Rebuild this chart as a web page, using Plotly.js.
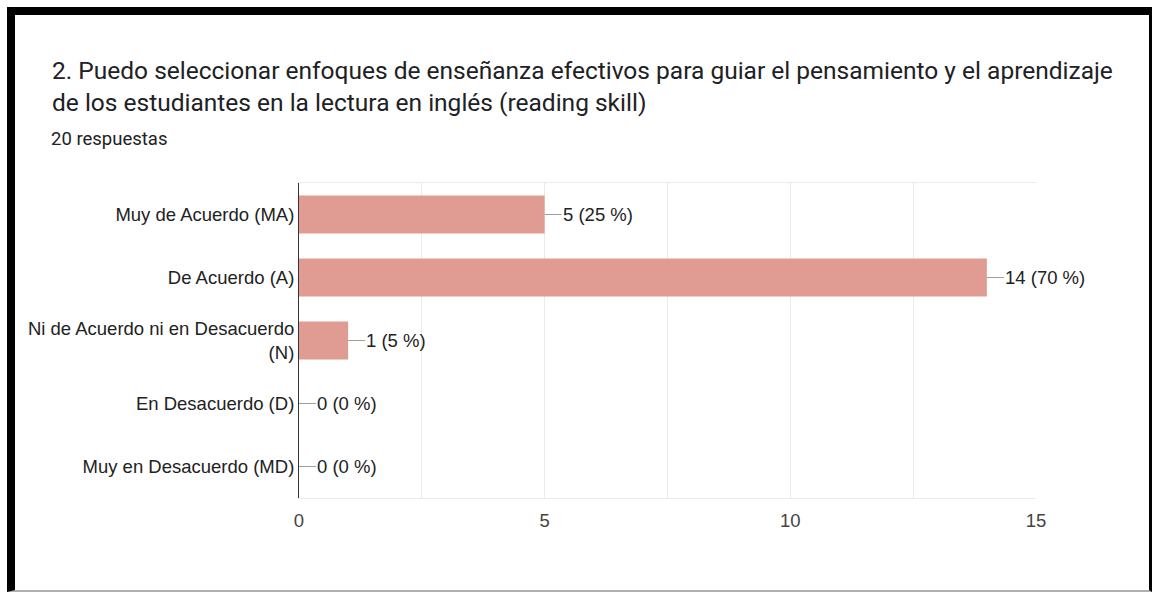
<!DOCTYPE html>
<html>
<head>
<meta charset="utf-8">
<script src="https://cdn.plot.ly/plotly-3.0.1.min.js"></script>
<style>
  html, body { margin: 0; padding: 0; background: #f4f4f4; }
  #chart { position: absolute; left: 0; top: 0; width: 1152px; height: 592px; }
  #frame { position: absolute; left: 7px; top: 7px; width: 1134px; height: 575px;
           border-left: 8px solid #000; border-top: 8px solid #000; border-right: 3px solid #000;
           border-bottom: 2px solid #b0b0b0; pointer-events: none; background: transparent; }
</style>
</head>
<body>
<div id="chart"></div>
<div id="frame"></div>
<script>
const categories = [
  'Muy de Acuerdo (MA)',
  'De Acuerdo (A)',
  'Ni de Acuerdo ni en Desacuerdo<br>(N)',
  'En Desacuerdo (D)',
  'Muy en Desacuerdo (MD)'
];
const counts = [5, 14, 1, 0, 0];
const percents = ['25 %', '70 %', '5 %', '0 %', '0 %'];
const titleText = '2. Puedo seleccionar enfoques de enseñanza efectivos para guiar el pensamiento y el aprendizaje<br>de los estudiantes en la lectura en inglés (reading skill)';
const subtitleText = '20 respuestas';
const xTicks = [0, 5, 10, 15];

const labelFont = { family: '"Liberation Sans", Arial, sans-serif', size: 18.5, color: '#222' };

const trace = {
  type: 'bar',
  orientation: 'h',
  y: categories,
  x: counts,
  width: 0.6,
  marker: { color: '#e09c93' },
  hoverinfo: 'none'
};

const annotations = categories.map((c, i) => ({
  x: counts[i], y: c, xref: 'x', yref: 'y',
  text: counts[i] + ' (' + percents[i] + ')',
  showarrow: true, arrowhead: 0, arrowwidth: 1, arrowcolor: '#9e9e9e',
  ax: 17, ay: 0, xanchor: 'left', borderpad: 0, standoff: 0,
  font: labelFont
}));
annotations.push({
  xref: 'paper', yref: 'paper', x: -250/737, y: 1 + 44/315, xanchor: 'left', yanchor: 'middle',
  text: subtitleText, showarrow: false,
  font: { family: 'Roboto, Arial, sans-serif', size: 18.5, color: '#202124' }
});

const layout = {
  width: 1152, height: 592,
  margin: { l: 299, r: 116, t: 183, b: 94 },
  paper_bgcolor: '#ffffff', plot_bgcolor: '#ffffff',
  showlegend: false,
  title: {
    text: titleText, xref: 'container', yref: 'container',
    x: 52/1152, xanchor: 'left', y: 1 - 79/592, yanchor: 'top',
    font: { family: 'Roboto, Arial, sans-serif', size: 24.5, color: '#202124' }
  },
  xaxis: {
    range: [0, 15], tickvals: xTicks, ticktext: xTicks.map(String),
    showgrid: true, gridcolor: '#ebebeb', gridwidth: 1,
    minor: { dtick: 2.5, showgrid: true, gridcolor: '#ebebeb', gridwidth: 1 },
    zeroline: false, showline: true, linecolor: '#ebebeb', linewidth: 1, mirror: true,
    ticks: 'outside', ticklen: 6, tickcolor: 'rgba(0,0,0,0)',
    tickfont: { family: '"Liberation Sans", Arial, sans-serif', size: 18.5, color: '#444' },
    fixedrange: true
  },
  yaxis: {
    type: 'category', autorange: 'reversed',
    showgrid: false, zeroline: false,
    showline: true, linecolor: '#333', linewidth: 1,
    ticks: '', tickfont: labelFont,
    fixedrange: true
  },
  annotations: annotations
};

Plotly.newPlot('chart', [trace], layout, { displayModeBar: false, staticPlot: true });
</script>
</body>
</html>
